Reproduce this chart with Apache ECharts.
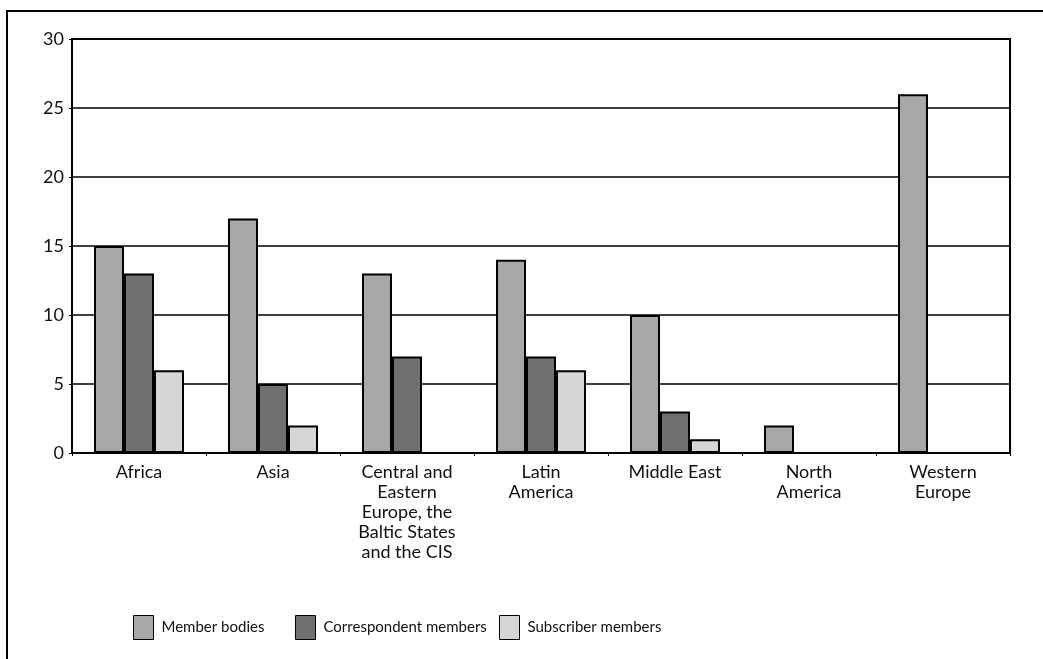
<!DOCTYPE html>
<html>
<head>
<meta charset="utf-8">
<title>Members by region</title>
<script src="https://cdn.jsdelivr.net/npm/echarts@6/dist/echarts.min.js"></script>
<style>
  html, body { margin: 0; padding: 0; background: #fff; }
  #chart { width: 1043px; height: 659px; }
</style>
</head>
<body>
<div id="chart"></div>
<script>
  var regions = ['Africa', 'Asia', 'Central and\nEastern\nEurope, the\nBaltic States\nand the CIS',
    'Latin\nAmerica', 'Middle East', 'North\nAmerica', 'Western\nEurope'];
  var memberBodies = [15, 17, 13, 14, 10, 2, 26];
  var correspondentMembers = [13, 5, 7, 7, 3, 0, 0];
  var subscriberMembers = [6, 2, 0, 6, 1, 0, 0];
  var yTicks = [0, 5, 10, 15, 20, 25, 30];

  var font = 'Lato, "Open Sans", sans-serif';

  function barSeries(name, values, color) {
    return {
      name: name,
      type: 'bar',
      data: values,
      barWidth: 30,
      barGap: '0%',
      itemStyle: { color: color, borderColor: '#000', borderWidth: 2 }
    };
  }

  function legendAt(name, left) {
    return {
      data: [name],
      left: left,
      top: 610,
      itemWidth: 20,
      itemHeight: 24,
      icon: 'rect',
      textStyle: { fontFamily: font, fontSize: 15, color: '#111', padding: [0, 0, 0, 3] },
      itemStyle: { borderColor: '#000', borderWidth: 1 }
    };
  }

  var chart = echarts.init(document.getElementById('chart'));
  var option = {
    animation: false,
    backgroundColor: '#fff',
    graphic: [{
      type: 'polyline',
      shape: { points: [[7, 670], [7, 11], [1050, 11]] },
      style: { stroke: '#000', lineWidth: 2, fill: null }
    }],
    grid: {
      left: 72, right: 33, top: 39, bottom: 206,
      show: true, borderColor: '#000', borderWidth: 2
    },
    legend: [
      legendAt('Member bodies', 128),
      legendAt('Correspondent members', 290),
      legendAt('Subscriber members', 494)
    ],
    xAxis: {
      type: 'category',
      data: regions,
      axisLine: { lineStyle: { color: '#000', width: 2 } },
      axisTick: { show: true, length: 3, lineStyle: { color: '#000' } },
      axisLabel: {
        fontFamily: font, fontSize: 18, color: '#111',
        lineHeight: 20, margin: 9, interval: 0
      }
    },
    yAxis: {
      type: 'value',
      min: yTicks[0],
      max: yTicks[yTicks.length - 1],
      interval: 5,
      axisLine: { show: true, lineStyle: { color: '#000', width: 2 } },
      axisTick: { show: true, length: 3, lineStyle: { color: '#000' } },
      splitLine: { lineStyle: { color: '#000', width: 1.5 } },
      axisLabel: { fontFamily: font, fontSize: 18, color: '#111', margin: 8 }
    },
    series: [
      barSeries('Member bodies', memberBodies, '#a8a8a8'),
      barSeries('Correspondent members', correspondentMembers, '#707070'),
      barSeries('Subscriber members', subscriberMembers, '#d6d6d6')
    ]
  };
  chart.setOption(option);
</script>
</body>
</html>
